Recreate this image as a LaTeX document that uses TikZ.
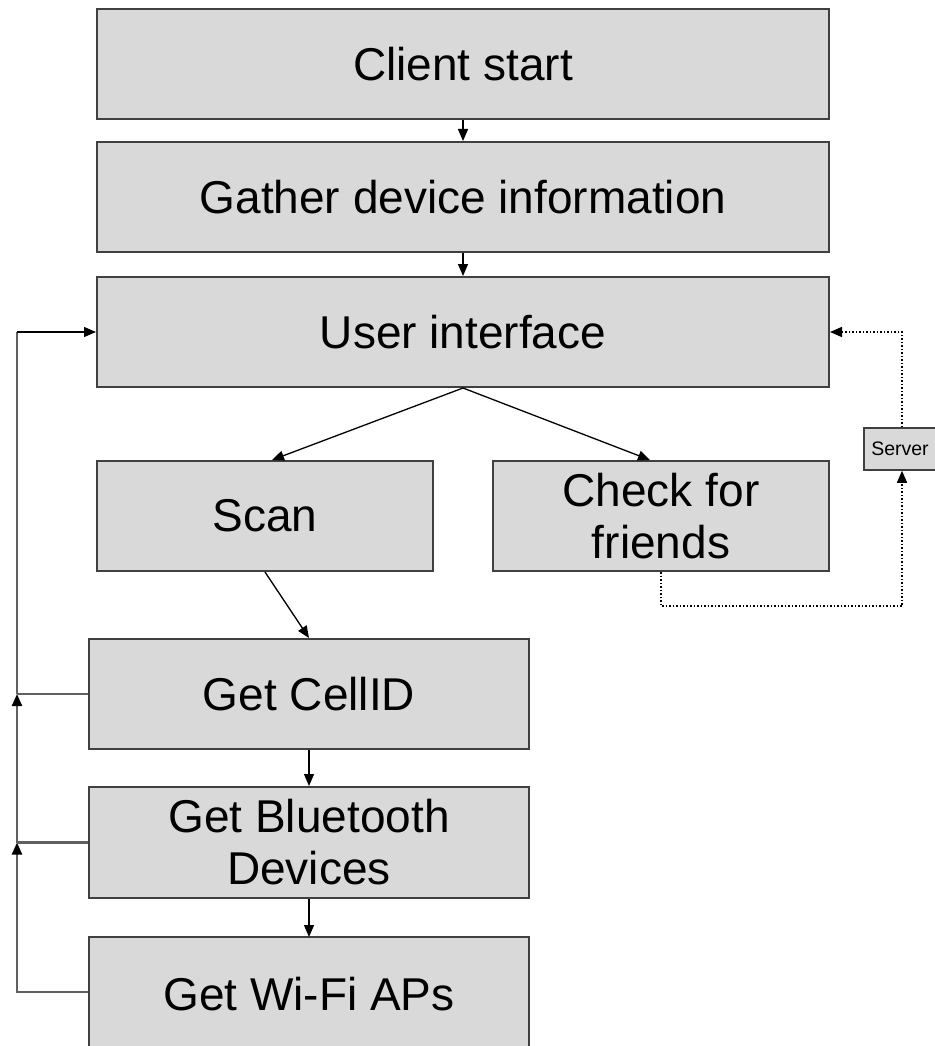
\documentclass[tikz,border=0pt]{standalone}
\usepackage{fontspec}
\setmainfont{Liberation Sans}
\usepackage{tikz}
\usetikzlibrary{positioning, arrows.meta, calc}

\definecolor{boxfill}{RGB}{217,217,217}
\definecolor{boxline}{RGB}{64,64,64}
\definecolor{loopline}{RGB}{96,96,96}

\begin{document}
\begin{tikzpicture}[
                x=1pt, y=-1pt,
                stepbox/.style={draw=boxline, line width=2pt, fill=boxfill, rectangle, inner sep=0pt, minimum height=110pt, align=center, font=\fontsize{46}{52}\selectfont},
                widebox/.style={stepbox, minimum width=732pt},
                halfbox/.style={stepbox, minimum width=336pt},
                scanbox/.style={stepbox, minimum width=440pt},
                serverbox/.style={draw=boxline, line width=1.5pt, fill=boxfill, rectangle, inner sep=0pt, minimum width=72pt, minimum height=42pt, font=\fontsize{19.5}{22}\selectfont},
                edge/.style={line width=1.3pt, -{Triangle[length=12pt, width=10pt]}},
                loopedge/.style={draw=loopline, line width=2.2pt},
                looptip/.style={-{Triangle[length=12pt, width=10pt, black]}},
                dotedge/.style={line width=1.5pt, dotted, -{Triangle[length=12pt, width=10pt]}}
            ]
            \useasboundingbox (0,0) rectangle (934,1046);

            % Knoten
            \node[widebox] (start) at (463,64.5) {Client start};
            \node[widebox] (gather) at (463,197) {Gather device information};
            \node[widebox] (ui) at (463,332) {User interface};
            \node[halfbox] (scan) at (265,516) {Scan};
            \node[halfbox] (check) at (661,516) {Check for\\friends};
            \node[serverbox] (server) at (900,449) {Server};
            \node[scanbox] (cell) at (309,694) {Get CellID};
            \node[scanbox, minimum height=111pt] (bt) at (309,842.5) {Get Bluetooth\\Devices};
            \node[scanbox, minimum height=114pt] (wifi) at (309,994) {Get Wi-Fi APs};

            % Kanten zwischen Knoten
            \draw[edge] (start.south) -- (gather.north);
            \draw[edge] (gather.south) -- (ui.north);
            \draw[edge] (ui.south) -- ([xshift=7pt]scan.north);
            \draw[edge] (ui.south) -- ([xshift=-11pt]check.north);
            \draw[edge] (scan.south) -- (cell.north);
            \draw[edge] (cell.south) -- (bt.north);
            \draw[edge] (bt.south) -- ([yshift=-1pt]wifi.north);

            % Rueckweg links
            \coordinate (back) at (17,992);
            \draw[loopedge, looptip] (wifi.west |- back) -- (back) -- (back |- bt.west);
            \draw[loopedge] (bt.west) -- (back |- bt.west);
            \draw[loopedge, looptip] (back |- bt.west) -- (back |- cell.west);
            \draw[loopedge] (cell.west) -- (back |- cell.west);
            \draw[loopedge] (back |- cell.west) -- (back |- ui.west);
            \draw[edge] (back |- ui.west) -- (ui.west);

            % Server
            \coordinate (srv) at (902,606);
            \draw[dotedge] (check.south) -- (check.south |- srv) -- (srv) -- (srv |- server.south);
            \draw[dotedge] (srv |- server.north) -- (srv |- ui.east) -- (ui.east);

        \end{tikzpicture}
\end{document}
